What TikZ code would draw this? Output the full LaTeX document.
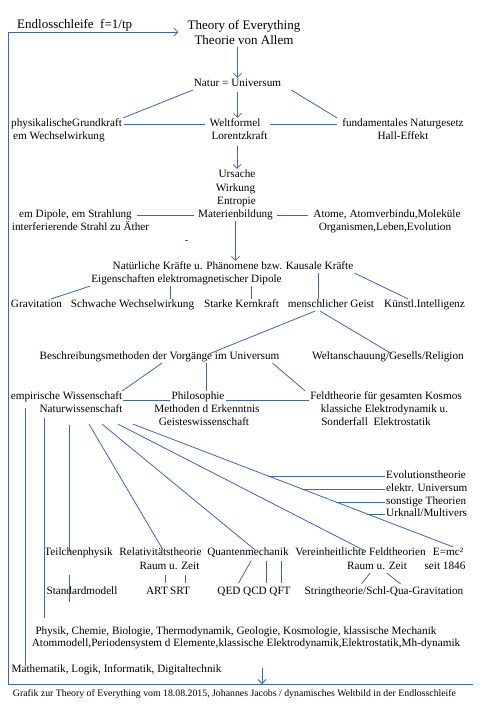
\documentclass[tikz,border=0pt]{standalone}
\usepackage{fontspec}
\setmainfont{Liberation Serif}
\usetikzlibrary{arrows.meta,calc}
\definecolor{lnc}{RGB}{59,103,175}
\begin{document}
\begin{tikzpicture}[x=1pt,y=-1pt,
  t/.style={font=\fontsize{11.2}{13}\selectfont, inner sep=1pt, text height=7.5pt, text depth=2.3pt},
  big/.style={font=\fontsize{13}{15}\selectfont, inner sep=1pt},
  ln/.style={draw=lnc, line width=0.8pt},
  arr/.style={ln, -{Straight Barb[length=4pt,width=8pt]}}]
\useasboundingbox (0,0) rectangle (483,706);

% nodes
\node[big, anchor=west] (endl) at (16,25) {Endlosschleife\ \ f=1/tp};
\node[big, align=center] (toe) at (244,32) {Theory of Everything\\Theorie von Allem};
\node[t] (natur) at (237.5,84) {Natur = Universum};
\node[t, anchor=west] (phys1) at (10,124) {physikalischeGrundkraft};
\node[t, anchor=west] (phys2) at (12,137) {em Wechselwirkung};
\node[t] (welt1) at (235,124) {Weltformel};
\node[t] (welt2) at (239.5,137) {Lorentzkraft};
\node[t] (fund1) at (403,124) {fundamentales Naturgesetz};
\node[t] (fund2) at (403,137) {Hall-Effekt};
\node[t] (urs) at (237,175) {Ursache};
\node[t] (wirk) at (235.5,189) {Wirkung};
\node[t] (entr) at (236.5,202) {Entropie};
\node[t] (mat) at (235.5,215) {Materienbildung};
\node[t] (dip1) at (75.5,215) {em Dipole, em Strahlung};
\node[t] (dip2) at (80.5,228) {interferierende Strahl zu Äther};
\node[t] (atom1) at (387,215) {Atome, Atomverbindu,Moleküle};
\node[t] (atom2) at (385,228) {Organismen,Leben,Evolution};
\node[t] (nat) at (233,267) {Natürliche Kräfte u. Phänomene bzw. Kausale Kräfte};
\node[t] (eig) at (186.5,280) {Eigenschaften elektromagnetischer Dipole};
\node[t] (grav) at (36.5,305) {Gravitation};
\node[t] (schw) at (132.5,305) {Schwache Wechselwirkung};
\node[t] (stark) at (241.5,305) {Starke Kernkraft};
\node[t] (geist) at (331,305) {menschlicher Geist};
\node[t] (ki) at (424.5,305) {Künstl.Intelligenz};
\node[t] (besch) at (159.5,357) {Beschreibungsmethoden der Vorgänge im Universum};
\node[t] (welta) at (388,357) {Weltanschauung/Gesells/Religion};
\node[t] (emp) at (66.5,397) {empirische Wissenschaft};
\node[t] (natw) at (81,410) {Naturwissenschaft};
\node[t] (philo) at (198,397) {Philosophie};
\node[t] (meth) at (207,410) {Methoden d Erkenntnis};
\node[t] (geistw) at (204,423) {Geisteswissenschaft};
\node[t] (feld) at (386,397) {Feldtheorie für gesamten Kosmos};
\node[t] (klass) at (384.5,410) {klassiche Elektrodynamik u.};
\node[t] (sonder) at (376,423) {Sonderfall\ \ Elektrostatik};
\node[t, anchor=west] (evo) at (385,476) {Evolutionstheorie};
\node[t, anchor=west] (elu) at (385,489) {elektr. Universum};
\node[t, anchor=west] (sonst) at (385,502) {sonstige Theorien};
\node[t, anchor=west] (urk) at (385,514) {Urknall/Multivers};
\node[t] (teil) at (78.5,553) {Teilchenphysik};
\node[t] (rel) at (160.5,553) {Relativitätstheorie};
\node[t] (quant) at (248,553) {Quantenmechanik};
\node[t] (ver) at (360.5,553) {Vereinheitlichte Feldtheorien};
\node[t] (emc) at (448,553) {E=mc²};
\node[t] (rz1) at (169.5,567) {Raum u. Zeit};
\node[t] (rz2) at (377,567) {Raum u. Zeit};
\node[t] (seit) at (445,567) {seit 1846};
\node[t] (std) at (82,592) {Standardmodell};
\node[t] (art) at (157,592) {ART};
\node[t] (srt) at (180,592) {SRT};
\node[t] (qed) at (229,592) {QED};
\node[t] (qcd) at (255,592) {QCD};
\node[t] (qft) at (280,592) {QFT};
\node[t] (string) at (384,592) {Stringtheorie/Schl-Qua-Gravitation};
\node[t] (physik) at (236,632) {Physik, Chemie, Biologie, Thermodynamik, Geologie, Kosmologie, klassische Mechanik};
\node[t] (atomm) at (246,644) {Atommodell,Periodensystem d Elemente,klassische Elektrodynamik,Elektrostatik,Mh-dynamik};
\node[t] (math) at (116.5,670) {Mathematik, Logik, Informatik, Digitaltechnik};
\node[font=\fontsize{9.8}{11}\selectfont, inner sep=1pt] (cap) at (234.5,694) {Grafik zur Theory of Everything vom 18.08.2015, Johannes Jacobs / dynamisches Weltbild in der Endlosschleife};

% loop
\coordinate (bl) at (8,684);
\coordinate (br) at (473,684);
\coordinate (ba) at (262,668);
\draw[arr, shorten >=8pt] (br) -- (bl) -- (bl |- toe.west) -- (toe.west);
\draw[arr] (ba) -- (ba |- br);

% top part
\draw[arr, shorten <=2pt] (natur.north |- toe.south) -- (natur.north);
\draw[ln] (natur.south west) -- (phys1.north east);
\draw[ln] ([xshift=9pt]natur.south east) -- ([xshift=-4pt]fund1.north west);
\draw[arr, shorten <=2pt] (natur.south) -- (natur.south |- welt1.north);
\draw[ln, shorten <=1pt, shorten >=3pt] (phys1.east) -- (welt1.west);
\draw[ln, shorten <=8pt, shorten >=4pt] (welt1.east) -- (fund1.west);
\draw[arr, shorten <=3pt] (urs.north |- welt2.south) -- (urs.north);
\draw[ln, shorten <=4pt, shorten >=3pt] (dip1.east) -- (mat.west);
\draw[ln, shorten <=3pt, shorten >=4pt] (mat.east) -- (atom1.west);
\draw[arr] (mat.south) -- (mat.south |- nat.north);
\draw[ln] (184.5,240.5) -- (187.5,240.5);

% forces
\draw[ln] (eig.south west) -- ([xshift=-12pt]grav.north east);
\draw[ln] ([xshift=-16.5pt]eig.south) -- ([xshift=-16.5pt]eig.south |- schw.north);
\draw[ln] ([xshift=64.5pt]eig.south) -- ([xshift=64.5pt]eig.south |- stark.north);
\draw[ln] ([xshift=85pt]nat.south) -- ([xshift=85pt]nat.south |- geist.north);
\draw[ln] (nat.south east) -- ([xshift=-16.5pt]ki.north);
\draw[ln] ([xshift=-16pt]geist.south) -- ([xshift=49.5pt,yshift=-3pt]besch.north);
\draw[ln] ([xshift=-11pt]geist.south) -- ([xshift=4pt,yshift=-3pt]welta.north);

% methods
\draw[ln] ([xshift=2.5pt]besch.south) -- ([xshift=-1pt]emp.north east);
\draw[ln] ([xshift=46.5pt]besch.south) -- ([xshift=46.5pt]besch.south |- philo.north);
\draw[ln] ([xshift=-8pt]besch.south east) -- ([xshift=-4pt]feld.north west);
\draw[ln] ([yshift=-3pt]emp.east) -- ([yshift=-3pt]philo.west);
\draw[ln] ([yshift=-3pt]philo.east) -- ([yshift=-3pt]feld.west);

% verticals
\draw[ln, shorten >=3pt] ([xshift=-41.5pt,yshift=-5pt]emp.south) -- ([xshift=-41.5pt,yshift=-5pt]emp.south |- math.north);
\draw[ln, shorten >=10pt] ([xshift=-37pt,yshift=-2pt]natw.south) -- ([xshift=-37pt,yshift=-2pt]natw.south |- physik.north);
\draw[ln, shorten >=4pt] ([xshift=-12pt,yshift=-9pt]natw.south) -- ([xshift=-12pt,yshift=-9pt]natw.south |- teil.north);
\draw[ln] ([xshift=-9.5pt,yshift=-16pt]teil.south) -- ([xshift=-9.5pt,yshift=-16pt]teil.south |- std.north);

% diagonals
\draw[ln] ([xshift=8pt,yshift=-8pt]natw.south) -- ([xshift=2.5pt,yshift=-3pt]rel.north);
\draw[ln] ([xshift=21pt,yshift=-8pt]natw.south) -- ([xshift=7pt,yshift=-3pt]quant.north);
\draw[ln] ([xshift=37pt,yshift=-8pt]natw.south) -- ([xshift=4.5pt,yshift=-4pt]ver.north);
\draw[ln] ([xshift=52pt,yshift=-8pt]natw.south) -- ([xshift=5pt]emc.north)
  coordinate[pos=0.423] (b1) coordinate[pos=0.528] (b2)
  coordinate[pos=0.634] (b3) coordinate[pos=0.732] (b4);
\draw[ln] (b1) -- (b1 -| evo.west);
\draw[ln] (b2) -- (b2 -| elu.west);
\draw[ln] (b3) -- (b3 -| sonst.west);
\draw[ln] (b4) -- (b4 -| urk.west);

% bottom rows
\draw[ln, shorten <=3pt, shorten >=2pt] ([xshift=8pt]art.north) -- ([xshift=8pt]art.north |- rz1.south);
\draw[ln, shorten <=3pt, shorten >=2pt] ([xshift=5pt]srt.north) -- ([xshift=5pt]srt.north |- rz1.south);
\draw[ln, shorten <=2pt, shorten >=3pt] ([xshift=4pt]quant.south) -- ([xshift=8pt]qed.north);
\draw[ln, shorten <=3pt, shorten >=2pt] ([xshift=11pt]qcd.north) -- ([xshift=11pt]qcd.north |- quant.south);
\draw[ln, shorten <=3pt, shorten >=2pt] ([xshift=1pt]qft.north) -- ([xshift=1pt]qft.north |- quant.south);
\draw[ln, shorten >=3pt] ([xshift=-7pt]rz2.south) -- ([xshift=-24pt]string.north);
\draw[ln, shorten >=3pt] ([xshift=10pt]rz2.south) -- ([xshift=19pt]string.north);
\end{tikzpicture}
\end{document}
